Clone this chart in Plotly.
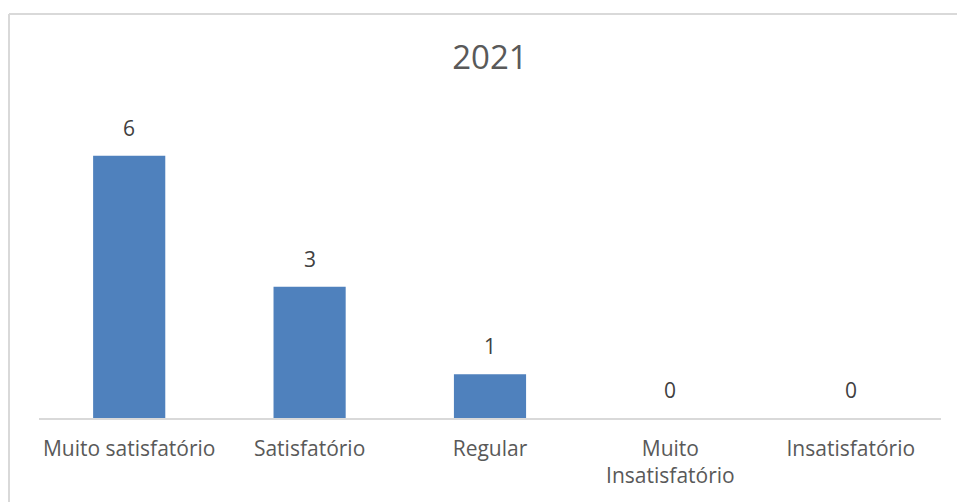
import plotly.graph_objects as go

categories = ["Muito satisfatório", "Satisfatório", "Regular", "Muito<br>Insatisfatório", "Insatisfatório"]
values = [6, 3, 1, 0, 0]
title_text = "2021"

W, H = 957, 502
L, T = 39, 112
pw, ph = 902, 306
R = W - L - pw
B = H - T - ph

FONT = "Open Sans"
fig = go.Figure()
fig.add_trace(go.Bar(
    x=categories, y=values,
    marker=dict(color="#4F81BD", line=dict(width=0)),
    width=0.4, hoverinfo="skip",
))
for c, v in zip(categories, values):
    fig.add_annotation(x=c, y=v, text=str(v), showarrow=False,
                       yanchor="bottom", yshift=12,
                       font=dict(family=FONT, size=21, color="#404040"))

def px2x(p):
    return (p - L) / pw

def py2y(p):
    return (T + ph - p) / ph

border = dict(color="#D9D9D9", width=2)
fig.add_shape(type="line", xref="paper", yref="paper",
              x0=px2x(9), x1=px2x(970), y0=py2y(14), y1=py2y(14), line=border, layer="below")
fig.add_shape(type="line", xref="paper", yref="paper",
              x0=px2x(9), x1=px2x(9), y0=py2y(14), y1=py2y(520), line=border, layer="below")

fig.update_layout(
    width=W, height=H,
    margin=dict(l=L, r=R, t=T, b=B, pad=0),
    paper_bgcolor="white", plot_bgcolor="white",
    showlegend=False,
    title=dict(text=title_text, x=490 / W, xanchor="center",
               y=1 - 57 / H, yanchor="middle",
               font=dict(family=FONT, size=33, color="#595959")),
    bargap=0.6,
)
fig.update_xaxes(
    showline=True, linecolor="#D9D9D9", linewidth=1.5,
    showgrid=False, zeroline=False,
    ticks="outside", ticklen=11, tickcolor="rgba(0,0,0,0)",
    tickfont=dict(family=FONT, size=21, color="#595959"),
)
fig.update_yaxes(range=[0, 7], visible=False, showgrid=False, zeroline=False)

fig.write_html("out.html", config={"displayModeBar": False},
               post_script="document.body.style.margin='0';document.body.style.overflow='hidden';")
